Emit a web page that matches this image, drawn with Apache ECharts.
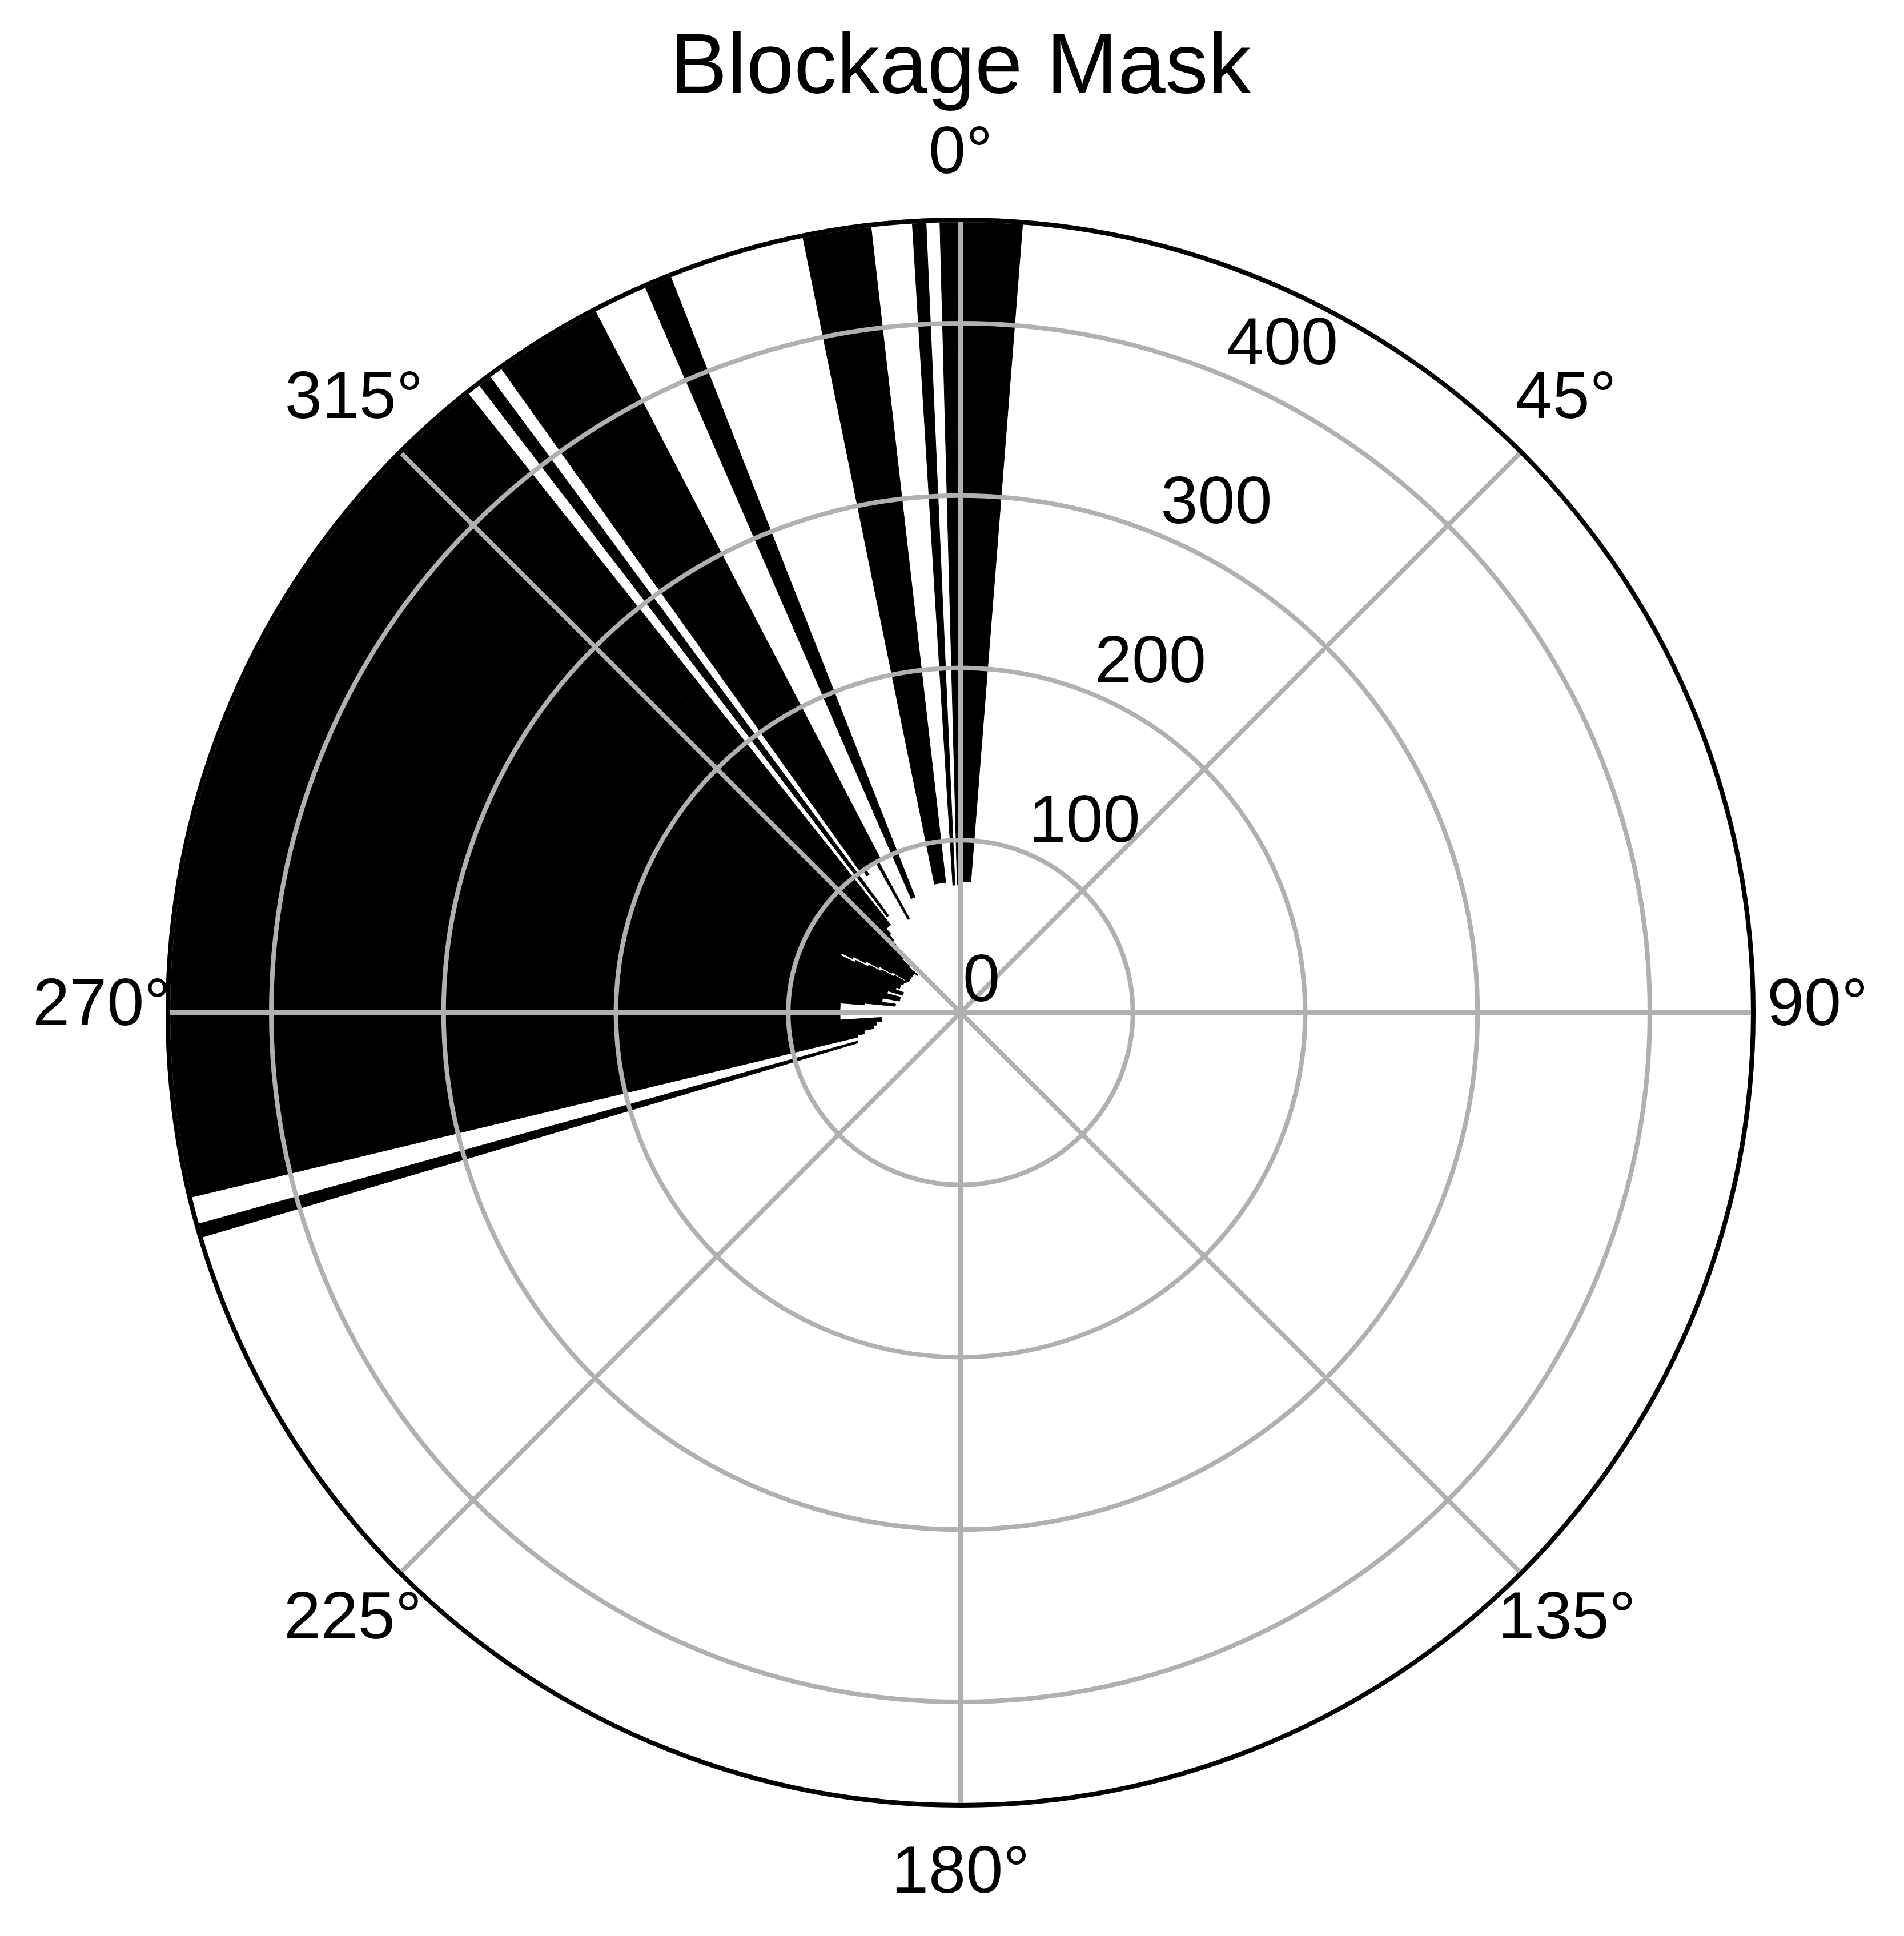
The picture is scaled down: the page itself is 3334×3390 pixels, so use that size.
<!DOCTYPE html>
<html>
<head>
<meta charset="utf-8">
<script src="https://cdn.jsdelivr.net/npm/echarts@6/dist/echarts.min.js"></script>
<style>
html,body{margin:0;padding:0;background:#fff;}
#chart{width:3334px;height:3390px;}
</style>
</head>
<body>
<div id="chart"></div>
<script>
// ---- data: blocked (masked) azimuth/range runs, black from inner to outer range ----
const blockStartDeg = [348.5, 356.5, 358.5, 359.5, 0,
  336.5, 331.5, 330.5, 326.5, 325.5, 324.5, 322.5,
  318.5, 317.5, 316.5, 315.5, 314.5, 313.5, 312.5, 311.5, 310.5, 300.5,
  299.5, 299.5, 298.5, 298.5, 297.5, 297.5, 296.5, 296.5, 295.5, 295.5,
  291.5, 289.5, 286.5, 284.5, 280.5, 277.5, 275.5, 274.5, 266.5,
  263.5, 261.5, 259.5, 257.5, 256.5, 253.5];
const blockEndDeg = [353.5, 357.5, 359.5, 360, 4.5,
  338.5, 332.5, 331.5, 330.5, 326.5, 325.5, 323.5,
  321.5, 318.5, 317.5, 316.5, 315.5, 314.5, 313.5, 312.5, 311.5, 310.5,
  300.5, 300.5, 299.5, 299.5, 298.5, 298.5, 297.5, 297.5, 296.5, 296.5,
  295.5, 291.5, 289.5, 286.5, 284.5, 280.5, 277.5, 275.5, 274.5,
  266.5, 263.5, 261.5, 259.5, 257.5, 254.5];
const blockInner = [76, 74, 74, 76, 76,
  72, 100, 62, 99, 96, 99, 70,
  65, 61, 57, 54, 51, 49, 46, 40, 33, 35,
  36, 46, 36, 54, 37, 62, 37, 70, 37, 77,
  38, 40, 35, 44, 36, 46, 38, 56, 70,
  46, 49, 51, 57, 61, 62];
const blockOuter = [460, 460, 460, 460, 460,
  460, 460, 460, 460, 460, 460, 460,
  460, 460, 460, 460, 460, 460, 460, 460, 460, 460,
  37, 460, 44, 460, 52, 460, 60, 460, 68, 460,
  460, 460, 460, 460, 460, 460, 460, 460, 460,
  460, 460, 460, 460, 460, 460];

const angleTicks = [0, 45, 90, 135, 180, 225, 270, 315];
const radiusTicks = [0, 100, 200, 300, 400];
const radiusMax = 460;
const titleText = 'Blockage Mask';

const runs = blockStartDeg.map((a0, i) => [a0, blockEndDeg[i], blockInner[i], blockOuter[i]]);

const FONT = "'Liberation Sans', Arial, sans-serif";
const TICK_FS = 117;
const chart = echarts.init(document.getElementById('chart'), null, {renderer: 'canvas', devicePixelRatio: 1});

function renderSector(params, api) {
  const cs = params.coordSys;
  const a0 = api.value(0), a1 = api.value(1), r0 = api.value(2), r1 = api.value(3);
  const cx = cs.cx, cy = cs.cy;
  const pIn = api.coord([r0, a0]);
  const pOut0 = api.coord([r1, a0]);
  const pOut1 = api.coord([r1, a1]);
  const rin = Math.hypot(pIn[0] - cx, pIn[1] - cy);
  const rout = Math.hypot(pOut0[0] - cx, pOut0[1] - cy);
  let sa = Math.atan2(pOut0[1] - cy, pOut0[0] - cx);
  let ea = Math.atan2(pOut1[1] - cy, pOut1[0] - cx);
  while (ea <= sa) ea += 2 * Math.PI;
  return {
    type: 'sector',
    shape: {cx: cx, cy: cy, r0: rin, r: rout, startAngle: sa, endAngle: ea, clockwise: true},
    style: {fill: '#000', stroke: '#000', lineWidth: 1}
  };
}

// per-label padding [top, right, bottom, left] to place label centres like matplotlib
const labelPad = {
  0: [0, 0, 134, 0],
  45: [0, 0, 88, 45],
  90: [0, 0, 20, 102],
  135: [79, 0, 0, 14],
  180: [140, 0, 0, 0],
  225: [79, 17, 0, 0],
  270: [0, 73, 20, 0],
  315: [0, 15, 88, 0]
};
const rich = {};
angleTicks.forEach(function (t) {
  rich['a' + t] = {fontSize: TICK_FS, fontFamily: FONT, color: '#000', padding: labelPad[t]};
});
const radiusRich = {
  r: {fontSize: TICK_FS, fontFamily: FONT, color: '#000', padding: [0, 0, 105, 4]}
};

const option = {
  backgroundColor: '#fff',
  animation: false,
  title: {
    text: titleText,
    left: 1682,
    textAlign: 'center',
    top: 47,
    padding: 0,
    textStyle: {fontSize: 150, fontWeight: 'normal', color: '#000', fontFamily: FONT}
  },
  polar: [
    {center: [1682, 1773], radius: [0, 1388]},
    {center: [1682, 1773], radius: [0, 1388]}
  ],
  angleAxis: [
    {
      polarIndex: 0, type: 'value', min: 0, max: 360, interval: 45,
      startAngle: 90, clockwise: true, z: 12,
      axisLine: {show: true, lineStyle: {color: '#000', width: 8}},
      axisTick: {show: false},
      axisLabel: {
        show: true, fontSize: TICK_FS, color: '#000', fontFamily: FONT, margin: -78,
        rich: rich,
        formatter: function (v) { return angleTicks.indexOf(v) >= 0 ? '{a' + v + '|' + v + '°}' : ''; }
      },
      splitLine: {show: true, lineStyle: {color: '#b0b0b0', width: 8}}
    },
    {
      polarIndex: 1, type: 'value', min: 0, max: 360, startAngle: 67.5, show: false
    }
  ],
  radiusAxis: [
    {
      polarIndex: 0, type: 'value', min: 0, max: radiusMax, interval: 100, z: 11,
      axisLine: {show: false}, axisTick: {show: false}, axisLabel: {show: false},
      splitLine: {show: true, lineStyle: {color: '#b0b0b0', width: 8}}
    },
    {
      polarIndex: 1, type: 'value', min: 0, max: radiusMax, interval: 100, z: 13,
      axisLine: {show: false}, axisTick: {show: false}, splitLine: {show: false},
      axisLabel: {
        show: true, fontSize: TICK_FS, color: '#000', fontFamily: FONT, margin: 0,
        align: 'left', verticalAlign: 'middle', showMaxLabel: false,
        rich: radiusRich,
        formatter: function (v) { return radiusTicks.indexOf(v) >= 0 ? '{r|' + v + '}' : ''; }
      }
    }
  ],
  series: [{
    type: 'custom',
    coordinateSystem: 'polar',
    polarIndex: 0,
    z: 2,
    encode: {angle: [0, 1], radius: [2, 3]},
    renderItem: renderSector,
    data: runs
  }]
};
chart.setOption(option);
</script>
</body>
</html>
